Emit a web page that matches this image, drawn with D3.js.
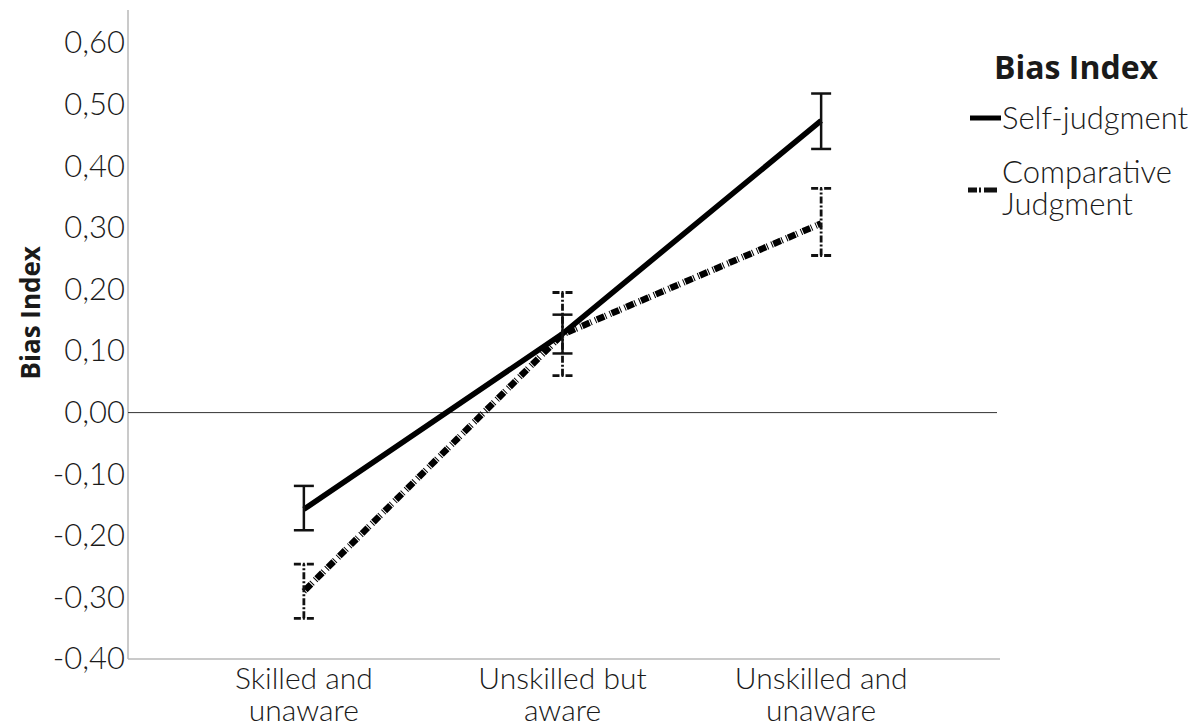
<!DOCTYPE html>
<html>
<head>
<meta charset="utf-8">
<script src="https://cdn.jsdelivr.net/npm/d3@7"></script>
<style>
  html, body { margin: 0; padding: 0; background: #fff; }
  svg { display: block; }
  text { font-family: "Lato", "Open Sans", sans-serif; font-weight: 300; fill: #1a1a1a; }
  text.bold { font-family: "Open Sans", sans-serif; font-weight: 700; }
</style>
</head>
<body>
<svg id="chart" width="1201" height="726"></svg>
<script>
// Categories (two-line labels)
const categories = ["Skilled and unaware", "Unskilled but aware", "Unskilled and unaware"];
const categoryLines = [["Skilled and", "unaware"], ["Unskilled but", "aware"], ["Unskilled and", "unaware"]];

// Self-judgment bias index: mean, lower and upper error bar
const selfMean  = [-0.157, 0.128, 0.474];
const selfLow   = [-0.191, 0.096, 0.428];
const selfHigh  = [-0.119, 0.159, 0.518];

// Comparative judgment bias index: mean, lower and upper error bar
const compMean  = [-0.290, 0.127, 0.307];
const compLow   = [-0.334, 0.060, 0.255];
const compHigh  = [-0.246, 0.195, 0.364];

const yTicks = [0.6, 0.5, 0.4, 0.3, 0.2, 0.1, 0.0, -0.1, -0.2, -0.3, -0.4];
const seriesNames = ["Self-judgment", ["Comparative", "Judgment"]];

const svg = d3.select("#chart");

const x = d3.scalePoint().domain(categories).range([128, 997]).padding(0.68);
const y = d3.scaleLinear().domain([-0.4, 0.6]).range([659, 43]);

const fmt = v => d3.format(".2f")(v).replace("−", "-").replace(".", ",");

// Y axis
const yAxis = svg.append("g")
  .attr("transform", "translate(128,0)")
  .call(d3.axisLeft(y).tickValues(yTicks).tickSize(0).tickPadding(3).tickFormat(fmt));
yAxis.select(".domain").remove();
yAxis.selectAll("text")
  .attr("font-size", 31)
  .style("font-family", '"Lato", "Open Sans", sans-serif')
  .style("font-weight", 300)
  .attr("fill", "#1a1a1a");

// Axis frame lines
svg.append("line").attr("x1", 128).attr("x2", 128).attr("y1", 10).attr("y2", y(-0.4))
  .attr("stroke", "#b8b8b8").attr("stroke-width", 1.5);
svg.append("line").attr("x1", 128).attr("x2", 1000).attr("y1", y(-0.4)).attr("y2", y(-0.4))
  .attr("stroke", "#b8b8b8").attr("stroke-width", 1.5);
// Zero reference line
svg.append("line").attr("x1", 128).attr("x2", 997).attr("y1", y(0)).attr("y2", y(0))
  .attr("stroke", "#333").attr("stroke-width", 1);

// X axis labels, one text per line
const xl = svg.append("g");
categories.forEach((c, i) => {
  categoryLines[i].forEach((ln, j) => {
    xl.append("text")
      .attr("x", x(c)).attr("y", 689 + j * 32)
      .attr("text-anchor", "middle")
      .attr("font-size", 30)
      .text(ln);
  });
});

// Y axis title
svg.append("text").attr("class", "bold")
  .attr("transform", `translate(40,${y(0.162)}) rotate(-90)`)
  .attr("text-anchor", "middle")
  .attr("font-size", 26)
  .text("Bias Index");

const line = d3.line().x(d => x(d.c)).y(d => y(d.v));
// thin tick, heavy block, thin tick, then a gap
const compDash = "1,1,8,1,1,4";

const compData = categories.map((c, i) => ({c, v: compMean[i], lo: compLow[i], hi: compHigh[i]}));
const selfData = categories.map((c, i) => ({c, v: selfMean[i], lo: selfLow[i], hi: selfHigh[i]}));

function errorBars(data, dashed, width) {
  const g = svg.append("g");
  data.forEach(d => {
    const cx = x(d.c);
    g.append("line").attr("x1", cx).attr("x2", cx).attr("y1", y(d.lo)).attr("y2", y(d.hi))
      .attr("stroke", "#111").attr("stroke-width", width)
      .attr("stroke-dasharray", dashed ? "7,2,2,2" : null);
    [d.lo, d.hi].forEach(v => {
      g.append("line").attr("x1", cx - 10).attr("x2", cx + 10).attr("y1", y(v)).attr("y2", y(v))
        .attr("stroke", "#111").attr("stroke-width", width)
        .attr("stroke-dasharray", dashed ? "7,2,2,2" : null);
    });
  });
}

// Comparative judgment series
svg.append("path").datum(compData)
  .attr("d", line).attr("fill", "none")
  .attr("stroke", "#000").attr("stroke-width", 6.5)
  .attr("stroke-dasharray", compDash);
errorBars(compData, true, 2.8);

// Self-judgment series
svg.append("path").datum(selfData)
  .attr("d", line).attr("fill", "none")
  .attr("stroke", "#000").attr("stroke-width", 5.5);
errorBars(selfData, false, 2.5);

// Legend
const lg = svg.append("g");
lg.append("text").attr("class", "bold").attr("x", 994).attr("y", 79)
  .attr("font-size", 32).text("Bias Index");
lg.append("line").attr("x1", 970).attr("x2", 1001).attr("y1", 118).attr("y2", 118)
  .attr("stroke", "#000").attr("stroke-width", 5);
lg.append("text").attr("x", 1002).attr("y", 129)
  .attr("font-size", 31).text(seriesNames[0]);
lg.append("line").attr("x1", 968).attr("x2", 999).attr("y1", 190).attr("y2", 190)
  .attr("stroke", "#111").attr("stroke-width", 5).attr("stroke-dasharray", "9,2,2,3,13");
seriesNames[1].forEach((ln, j) => {
  lg.append("text").attr("x", 1002).attr("y", 183 + j * 32)
    .attr("font-size", 31).text(ln);
});
</script>
</body>
</html>
